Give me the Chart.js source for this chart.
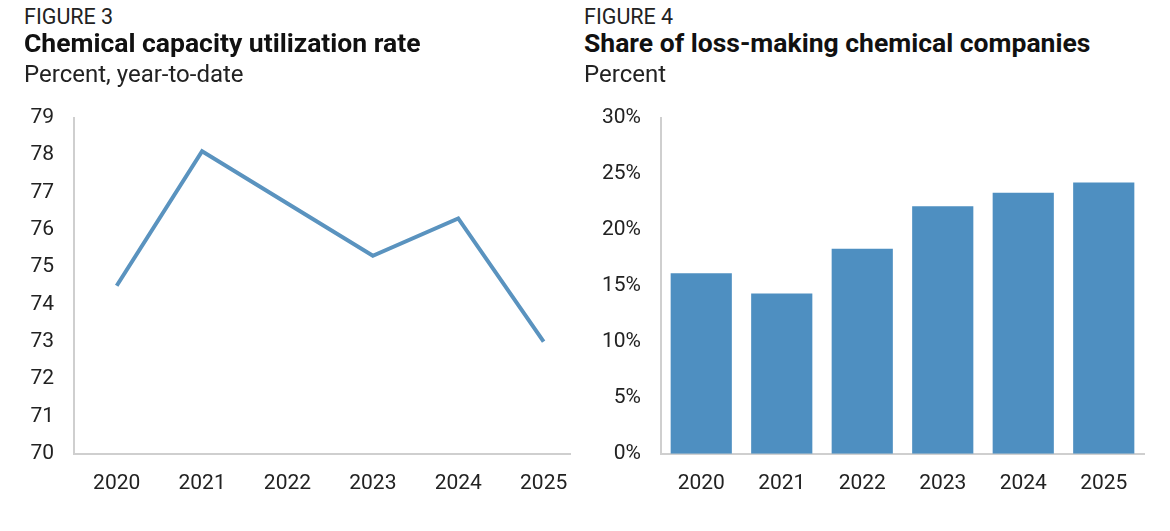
<!doctype html>
<html>
<head>
  <meta charset="utf-8">
  <title>Chemical capacity and loss-making companies</title>
  <script src="https://cdn.jsdelivr.net/npm/chart.js@4.4.1/dist/chart.umd.min.js"></script>
  <style>
    html,body{margin:0;padding:0;background:#fff;}
    body{width:1170px;height:531px;position:relative;overflow:hidden;font-family:Roboto,"Noto Sans",Arial,sans-serif;color:#1a1a1a;}
    .fig{position:absolute;font-size:21.5px;line-height:1;color:#222;white-space:nowrap;z-index:2;}
    .ttl{position:absolute;font-size:26.5px;line-height:1;font-weight:700;color:#111;white-space:nowrap;z-index:2;}
    .sub{position:absolute;font-size:24px;line-height:1;color:#222;white-space:nowrap;z-index:2;}
    .box{position:absolute;top:85px;width:585px;height:446px;z-index:1;}
  </style>
</head>
<body>

<div class="fig" style="left:24px;top:6px">FIGURE 3</div>
<div class="ttl" style="left:24px;top:30px">Chemical capacity utilization rate</div>
<div class="sub" style="left:24px;top:62px">Percent, year-to-date</div>

<div class="fig" style="left:584px;top:6px">FIGURE 4</div>
<div class="ttl" style="left:584px;top:30px">Share of loss-making chemical companies</div>
<div class="sub" style="left:584px;top:62px">Percent</div>

<div class="box" style="left:0"><canvas id="utilChart" width="585" height="446"></canvas></div>
<div class="box" style="left:585px"><canvas id="lossChart" width="585" height="446"></canvas></div>

<script>
// ---- data ----
const years       = [2020, 2021, 2022, 2023, 2024, 2025];
const utilization = [74.5, 78.1, 76.7, 75.3, 76.3, 73.0];   // percent, YTD
const lossShare   = [16.1, 14.3, 18.3, 22.1, 23.3, 24.2];   // percent

const tickFont = {family:'Roboto', size:21};
const tickColor = '#222';
const axisGray = '#cfcfcf';

// ---- figure 3: line ----
new Chart(document.getElementById('utilChart'), {
  type: 'line',
  data: {
    datasets: [{
      data: years.map((y, i) => ({x: y, y: utilization[i]})),
      borderColor: '#5a93bf',
      borderWidth: 4,
      pointRadius: 0,
      tension: 0,
      borderJoinStyle: 'miter'
    }]
  },
  options: {
    responsive: false,
    animation: false,
    layout: {padding: {top: 0, right: 14, bottom: 18, left: 0}},
    plugins: {legend: {display: false}, tooltip: {enabled: false}},
    scales: {
      x: {
        type: 'linear',
        min: 2019.5,
        max: 2025.32,
        afterBuildTicks: s => { s.ticks = years.map(v => ({value: v})); },
        grid: {display: false, drawTicks: false},
        border: {display: true, color: axisGray, width: 2},
        ticks: {font: tickFont, color: tickColor, padding: 17, callback: v => String(v)}
      },
      y: {
        min: 70, max: 79,
        afterFit: s => { s.width = 74; },
        grid: {display: false, drawTicks: false},
        border: {display: true, color: axisGray, width: 2},
        ticks: {stepSize: 1, font: tickFont, color: tickColor, padding: 20}
      }
    }
  }
});

// ---- figure 4: bars ----
new Chart(document.getElementById('lossChart'), {
  type: 'bar',
  data: {
    labels: years.map(String),
    datasets: [{
      data: lossShare,
      backgroundColor: '#4e8fc1',
      barPercentage: 0.76,
      categoryPercentage: 1.0
    }]
  },
  options: {
    responsive: false,
    animation: false,
    layout: {padding: {top: 0, right: 26, bottom: 18, left: 0}},
    plugins: {legend: {display: false}, tooltip: {enabled: false}},
    scales: {
      x: {
        grid: {display: false, drawTicks: false},
        border: {display: true, color: axisGray, width: 2},
        ticks: {font: tickFont, color: tickColor, padding: 17}
      },
      y: {
        min: 0, max: 30,
        afterFit: s => { s.width = 76; },
        grid: {display: false, drawTicks: false},
        border: {display: true, color: axisGray, width: 2},
        ticks: {stepSize: 5, font: tickFont, color: tickColor, padding: 20, callback: v => v + '%'}
      }
    }
  }
});
</script>
</body>
</html>
